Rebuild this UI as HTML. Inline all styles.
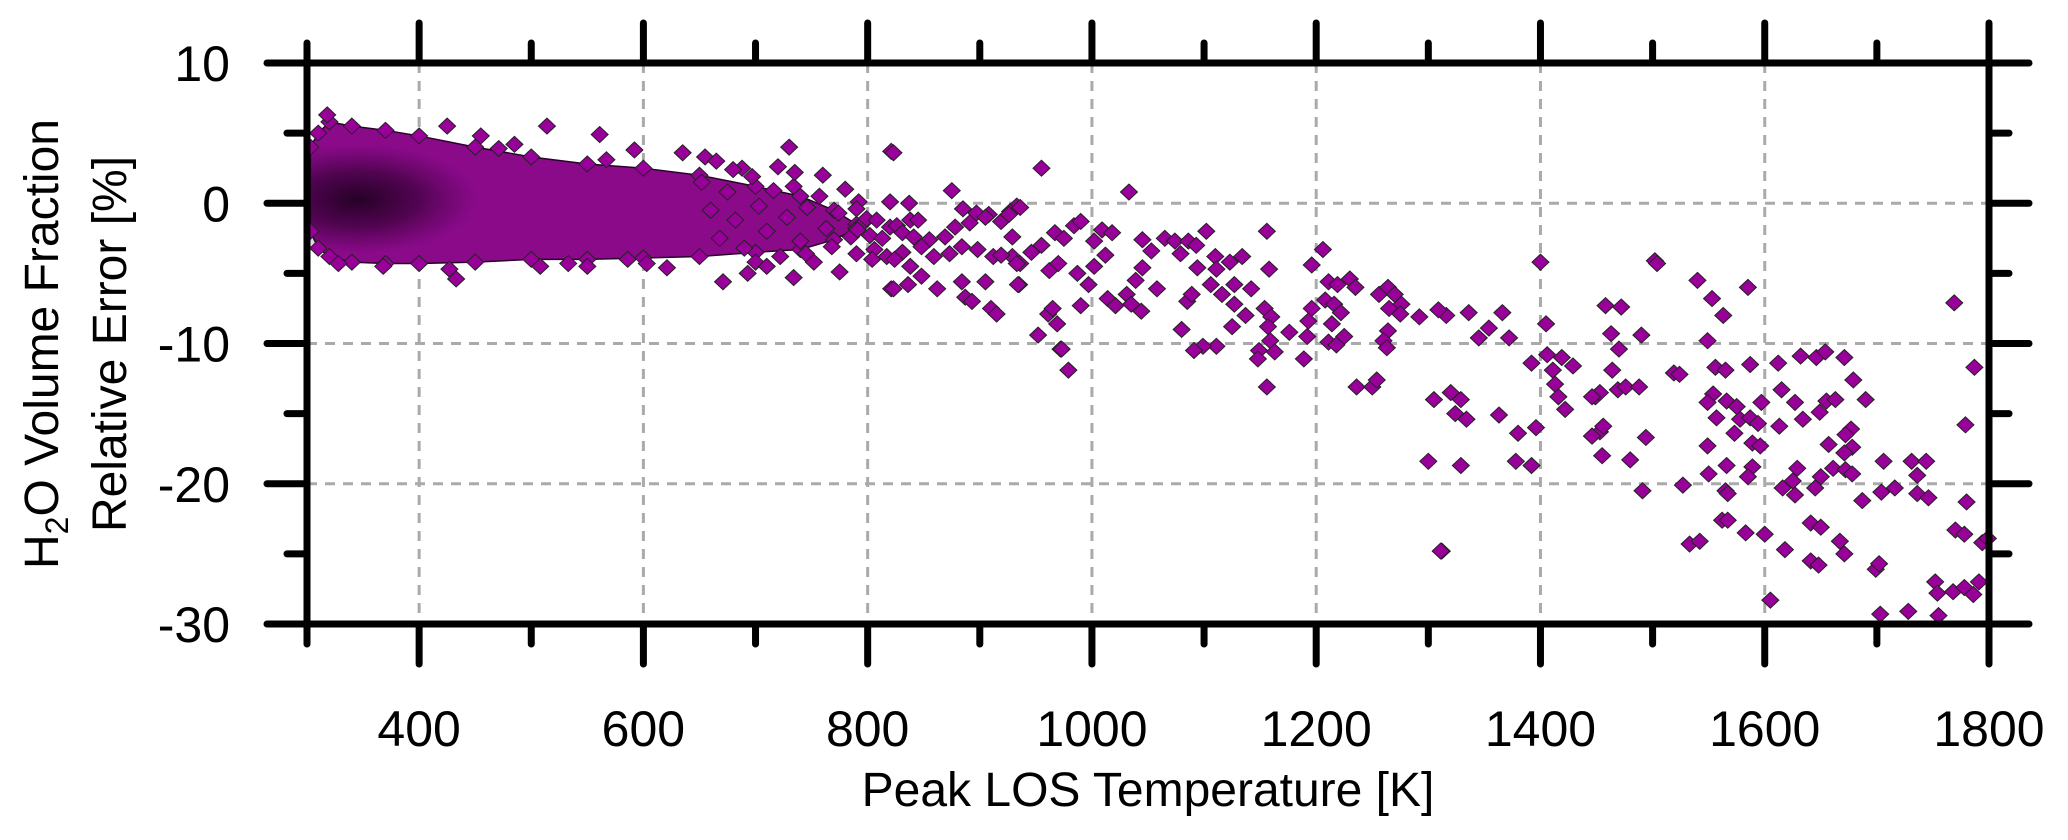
<!DOCTYPE html>
<html><head><meta charset="utf-8"><style>
html,body{margin:0;padding:0;background:#fff;}
svg{display:block;font-family:"Liberation Sans",Arial,sans-serif;}
</style></head><body>
<svg id="chart" width="2068" height="840" viewBox="0 0 2068 840" xmlns="http://www.w3.org/2000/svg">
<defs>
<radialGradient id="coreGrad" cx="0.5" cy="0.5" r="0.5">
<stop offset="0" stop-color="#1a001a" stop-opacity="0.9"/>
<stop offset="0.5" stop-color="#2a002a" stop-opacity="0.6"/>
<stop offset="1" stop-color="#400040" stop-opacity="0"/>
</radialGradient>
<clipPath id="plotClip"><rect x="307" y="63" width="1682" height="561"/></clipPath>
</defs>
<g id="grid"></g>
<g id="band" clip-path="url(#plotClip)"></g>
<g id="points"></g>
<g id="axes"></g>
<g id="labels"></g>
<text transform="translate(58,344) rotate(-90)" text-anchor="middle" font-size="48">H<tspan font-size="32" dy="10">2</tspan><tspan dy="-10">O Volume Fraction</tspan></text>
<text transform="translate(126,344) rotate(-90)" text-anchor="middle" font-size="48">Relative Error [%]</text>
<text x="1148" y="806" text-anchor="middle" font-size="48">Peak LOS Temperature [K]</text>
</svg>
<script>
// axis data
const xTicksMajor = [400, 600, 800, 1000, 1200, 1400, 1600, 1800];
const xTicksMinor = [300, 500, 700, 900, 1100, 1300, 1500, 1700];
const yTicksMajor = [10, 0, -10, -20, -30];
const yTicksMinor = [5, -5, -15, -25];
const xGrid = [400, 600, 800, 1000, 1200, 1400, 1600];
const yGrid = [0, -10, -20];
// dense cloud envelope
const bandX = [303, 310, 320, 340, 370, 400, 450, 500, 550, 600, 650, 700, 740, 770, 790];
const bandUpper = [4, 5, 5.8, 5.5, 5.2, 4.8, 4.0, 3.3, 2.8, 2.5, 2.0, 1.2, 0.5, -0.5, -1.5];
const bandLower = [-2, -3.2, -3.8, -4.2, -4.3, -4.3, -4.2, -4.0, -4.0, -3.9, -3.8, -3.5, -3.3, -2.6, -1.8];
// individual points: temperature (K) and relative error (%)
const ptT = [
318,425,455,514,561,485,471,592,567,655,730,821,688,635,
433,427,671,734,693,821,775,550,508,621,603,586,368,328,533,
652,660,668,675,682,690,697,703,710,716,722,728,734,740,746,752,757,763,768,774,780,785,790,796,700,735,760,720,680,665,745,710,
823,875,792,820,837,885,897,908,933,790,799,808,820,826,838,845,791,802,813,831,841,855,869,878,891,905,919,927,
806,817,831,848,859,873,884,898,912,929,936,804,824,838,848,862,884,887,905,893,910,915,935,823,836,961,972,
955,1033,936,1156,1206,1196,1158,
967,975,984,990,955,946,962,970,987,997,1002,965,969,952,973,979,934,990,926,929,933,919,
1045,1053,1065,1074,1086,1093,1102,1079,1094,1110,1123,1134,1111,1106,1116,1127,1142,1127,1137,1154,1160,1157,1159,1163,1149,1148,1125,1111,1099,1091,1080,1085,1089,1045,1039,1058,1044,1031,1035,1014,1021,1012,1002,1009,1018,
1211,1219,1230,1235,1208,1216,1222,1214,1211,1218,1225,1256,1264,1270,1276,1265,1275,1264,1260,1263,1192,1189,1193,1196,1176,
1236,1250,1254,1156,1312,
1400,1405,1502,1504,1540,1553,1563,1585,1769,1787,1779,1780,1770,1778,1794,1799,1752,1754,1755,1768,1778,1786,1791,1728,1703,1699,1702,
1731,1744,1736,1736,1746,1716,1704,1706,1687,1690,1679,1671,1632,1646,1654,1612,1615,1627,1634,1655,1663,1649,1677,1672,1678,1671,1657,
1661,1672,1678,1650,1645,1629,1625,1627,1616,1641,1650,1667,1671,1641,1648,1618,1605,1600,1583,1562,1567,1533,1542,1527,1491,1494,1480,1455,
1446,1453,1456,1449,1453,1464,1469,1476,1488,1470,1463,1458,1472,1490,1406,1411,1413,1416,1419,1429,1422,1392,1396,1380,1378,1392,1363,
1366,1372,1345,1354,1336,1316,1309,1292,1305,1320,1329,1324,1334,1329,1300,1311,
1549,1556,1565,1587,1554,1549,1566,1575,1557,1578,1587,1594,1597,1573,1549,1589,1596,1566,1589,1550,1585,1565,1567,1613,1519,1524,1446,1446
];
const ptE = [
6.3,5.5,4.8,5.5,4.9,4.2,3.9,3.8,3.1,3.3,4.0,3.7,2.5,3.6,
-5.4,-4.7,-5.6,-5.3,-5.0,-6.1,-4.9,-4.5,-4.5,-4.6,-4.3,-4.0,-4.5,-4.3,-4.3,
1.5,-0.5,-2.5,0.8,-1.2,-3.2,1.9,-0.2,-2.0,0.9,-3.8,-1.0,1.2,-2.7,-0.3,-4.2,0.5,-1.8,-3.1,-0.7,1.0,-2.4,-3.6,-1.4,-4.2,2.2,2.0,2.6,2.4,3.0,-3.6,-4.5,
3.6,0.9,0.1,0.1,0,-0.4,-0.7,-0.8,-0.2,-0.4,-1.1,-1.2,-1.7,-1.6,-1.2,-1.2,-1.9,-2.3,-2.5,-2.1,-2.4,-2.6,-2.4,-1.7,-1.4,-1.0,-1.3,-0.6,
-3.3,-3.8,-3.5,-3.1,-3.8,-3.6,-3.1,-3.3,-3.8,-3.8,-4.3,-4.0,-4.0,-4.5,-5.2,-6.1,-5.6,-6.7,-5.6,-7.0,-7.5,-7.9,-5.8,-6.1,-5.8,-7.9,-10.4,
2.5,0.8,-0.3,-2.0,-3.3,-4.4,-4.7,
-2.1,-2.5,-1.6,-1.3,-3.0,-3.5,-4.8,-4.3,-5.0,-5.8,-4.5,-7.5,-8.6,-9.4,-10.4,-11.9,-5.8,-7.3,-0.8,-2.4,-4.3,-3.7,
-2.6,-3.4,-2.5,-2.7,-2.7,-3.0,-2.0,-3.6,-4.6,-3.8,-4.2,-3.8,-4.7,-5.8,-6.5,-5.8,-6.1,-7.2,-8.0,-7.5,-8.1,-8.8,-9.8,-10.6,-10.5,-11.1,-8.8,-10.2,-10.2,-10.5,-9.0,-7.0,-6.5,-4.6,-5.5,-6.1,-7.7,-6.5,-7.2,-6.8,-7.3,-3.7,-2.7,-1.9,-2.1,
-5.6,-5.8,-5.4,-6.0,-6.9,-7.2,-7.8,-8.6,-9.9,-10.1,-9.5,-6.5,-6.0,-6.5,-7.2,-7.5,-7.9,-9.1,-9.8,-10.3,-9.5,-11.1,-8.4,-7.5,-9.2,
-13.1,-13.1,-12.6,-13.1,-24.8,
-4.2,-8.6,-4.1,-4.3,-5.5,-6.8,-8.0,-6.0,-7.1,-11.7,-15.8,-21.3,-23.3,-23.6,-24.2,-23.9,-27.0,-27.8,-29.4,-27.7,-27.4,-27.9,-27.0,-29.1,-29.3,-26.1,-25.7,
-18.4,-18.4,-19.4,-20.7,-21.0,-20.3,-20.6,-18.4,-21.2,-14.0,-12.6,-11.0,-10.9,-11.0,-10.6,-11.4,-13.3,-14.2,-15.4,-14.1,-14.0,-14.9,-16.1,-16.5,-17.4,-17.8,-17.2,
-18.9,-19.0,-19.3,-19.5,-20.3,-18.9,-19.8,-20.8,-20.3,-22.8,-23.1,-24.1,-25.0,-25.5,-25.8,-24.7,-28.3,-23.6,-23.5,-22.6,-22.6,-24.3,-24.1,-20.1,-20.5,-16.7,-18.3,-18.0,
-16.6,-16.3,-15.9,-13.8,-13.5,-11.9,-13.3,-13.1,-13.1,-10.4,-9.3,-7.3,-7.4,-9.4,-10.8,-11.9,-12.9,-13.8,-11.0,-11.6,-14.7,-11.4,-16.0,-16.4,-18.4,-18.7,-15.1,
-7.8,-9.6,-9.6,-8.9,-7.8,-8.0,-7.6,-8.1,-14.0,-13.5,-14.0,-15.0,-15.4,-18.7,-18.4,-24.8,
-9.8,-11.7,-11.9,-11.5,-13.6,-14.2,-14.1,-14.5,-15.3,-15.4,-15.3,-15.7,-14.2,-16.4,-17.3,-17.1,-17.3,-18.7,-18.8,-19.3,-19.5,-20.5,-20.7,-15.9,-12.1,-12.2,-13.8,-16.6
];

const NS = 'http://www.w3.org/2000/svg';
const X0 = 307, X1 = 1989, T0 = 300, T1 = 1800;
const Y0 = 63, Y1 = 624, E0 = 10, E1 = -30;
function xs(t){ return X0 + (t - T0) * (X1 - X0) / (T1 - T0); }
function ys(e){ return Y0 + (E0 - e) * (Y1 - Y0) / (E0 - E1); }
function mk(tag, attrs, parent){
  const el = document.createElementNS(NS, tag);
  for (const k in attrs) el.setAttribute(k, attrs[k]);
  parent.appendChild(el);
  return el;
}
function diamond(cx, cy, parent){
  return mk('path', {d: `M${cx},${cy-8} L${cx+8.5},${cy} L${cx},${cy+8} L${cx-8.5},${cy} Z`, fill: '#990099', stroke: '#222', 'stroke-width': 1}, parent);
}
const grid = document.getElementById('grid');
xGrid.forEach(t => {
  const l = mk('line', {x1: xs(t), x2: xs(t), y1: Y0, y2: Y1, stroke: '#aaa', 'stroke-width': 3, 'stroke-dasharray': '10 8'}, grid);
  
  
});
yGrid.forEach(e => {
  const l = mk('line', {x1: X0, x2: X1, y1: ys(e), y2: ys(e), stroke: '#aaa', 'stroke-width': 3, 'stroke-dasharray': '10 8'}, grid);
  
  
});

// dense band
const band = document.getElementById('band');
let d = 'M' + bandX.map((t, i) => xs(t) + ',' + ys(bandUpper[i])).join(' L');
for (let i = bandX.length - 1; i >= 0; i--) d += ' L' + xs(bandX[i]) + ',' + ys(bandLower[i]);
d += ' Z';
const bp = mk('path', {d: d, fill: '#8a0a8a', stroke: '#2a002a', 'stroke-width': 1.5, 'stroke-linejoin': 'round'}, band);


const core = mk('ellipse', {cx: xs(345), cy: ys(0.3), rx: 120, ry: 55, fill: 'url(#coreGrad)'}, band);


// ragged edge diamonds along envelope
bandX.forEach((t, i) => {
  [bandUpper[i], bandLower[i]].forEach(e => {
    const p = diamond(xs(t), ys(e), band);
    
    
  });
});

// points
const pts = document.getElementById('points');
for (let i = 0; i < ptT.length; i++) {
  const p = diamond(xs(ptT[i]), ys(ptE[i]), pts);
  
  
}

// axes
const axes = document.getElementById('axes');
const AX = {stroke: '#000', 'stroke-width': 7, 'stroke-linecap': 'round'};
function line(x1, y1, x2, y2, name){
  const l = mk('line', Object.assign({x1, y1, x2, y2}, AX), axes);
  
  
}
line(X0, Y0, X1, Y0, 'top-axis');
line(X0, Y1, X1, Y1, 'bottom-axis');
line(X0, Y0, X0, Y1, 'left-axis');
line(X1, Y0, X1, Y1, 'right-axis');
xTicksMajor.forEach(t => { line(xs(t), Y0, xs(t), Y0 - 40, 'x-tick-top'); line(xs(t), Y1, xs(t), Y1 + 40, 'x-tick-bottom'); });
xTicksMinor.forEach(t => { line(xs(t), Y0, xs(t), Y0 - 20, 'x-minor-tick-top'); line(xs(t), Y1, xs(t), Y1 + 20, 'x-minor-tick-bottom'); });
yTicksMajor.forEach(e => { line(X0, ys(e), X0 - 40, ys(e), 'y-tick-left'); line(X1, ys(e), X1 + 40, ys(e), 'y-tick-right'); });
yTicksMinor.forEach(e => { line(X0, ys(e), X0 - 20, ys(e), 'y-minor-tick-left'); line(X1, ys(e), X1 + 20, ys(e), 'y-minor-tick-right'); });

// labels
const labels = document.getElementById('labels');
xTicksMajor.forEach(t => {
  const tx = mk('text', {x: xs(t), y: 746, 'text-anchor': 'middle', 'font-size': 50}, labels);
  tx.textContent = String(t);
  
  
});
yTicksMajor.forEach(e => {
  const tx = mk('text', {x: 230, y: ys(e) + 18, 'text-anchor': 'end', 'font-size': 50}, labels);
  tx.textContent = String(e);
  
  
});
</script>
</body></html>
